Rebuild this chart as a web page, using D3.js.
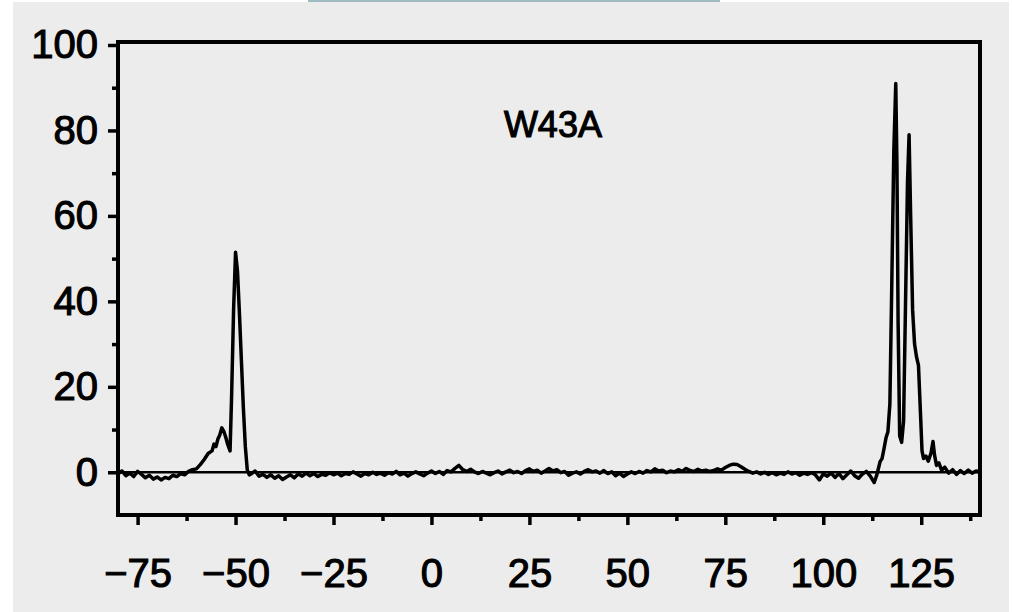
<!DOCTYPE html>
<html>
<head>
<meta charset="utf-8">
<script src="https://cdn.jsdelivr.net/npm/d3@7"></script>
<style>
  html, body { margin: 0; padding: 0; background: #ffffff; }
  svg { display: block; }
  text { font-family: "Liberation Sans", Arial, Helvetica, sans-serif; fill: #000; }
</style>
</head>
<body>
<svg id="chart" width="1013" height="612"></svg>
<script>
// Spectrum trace: chemical shift (ppm) and signal intensity
const shiftPpm = [
  -80, -79, -78, -77, -76, -75, -74, -73, -72, -71, -70, -69, -68, -67, -66, -65, -64, -63, -62, -61,
  -60, -59, -58, -57, -56, -55.5, -55, -54.5, -54, -53.5, -53, -52.5, -52, -51.4, -51, -50.5, -50,
  -49.5, -49, -48.5, -48, -47.5, -47, -46.5,
  -46, -45, -44, -43, -42, -41, -40, -39, -38, -37, -36, -35, -34, -33, -32, -31, -30, -29, -28, -27,
  -26, -25, -24, -23, -22, -21, -20, -19, -18, -17, -16, -15, -14, -13, -12, -11, -10, -9, -8, -7,
  -6, -5, -4, -3, -2, -1, 0, 1, 2, 3, 4, 5, 6, 7, 8, 9, 10, 11, 12, 13, 14, 15, 16, 17, 18, 19,
  20, 21, 22, 23, 24, 25, 26, 27, 28, 29, 30, 31, 32, 33, 34, 35, 36, 37, 38, 39, 40, 41, 42, 43,
  44, 45, 46, 47, 48, 49, 50, 51, 52, 53, 54, 55, 56, 57, 58, 59, 60, 61, 62, 63, 64, 65, 66, 67,
  68, 69, 70, 71, 72, 73, 74, 75, 76, 77, 78, 79, 80, 81, 82, 83, 84, 85, 86, 87, 88, 89, 90, 91,
  92, 93, 94, 95, 96, 97, 98, 99, 100, 101, 102, 103, 104, 105, 106, 107, 108, 109, 110, 111, 112,
  113, 113.6, 114, 114.5, 115, 115.5, 116, 116.5, 117, 117.5, 118, 118.5, 118.8, 119.1, 119.5, 120,
  120.5, 121, 121.5, 121.9, 122.3, 122.8, 123.3, 123.8, 124.3, 124.8, 125.2, 125.6, 126.2, 126.8,
  127.5, 128, 128.4, 128.9, 129.5, 130.2, 131, 132, 133, 134, 135, 136, 137, 138, 139, 140
];
const intensity = [
  -0.4, 0.3, -0.8, -0.2, -1.0, 0.2, -0.5, -1.3, -0.7, -1.6, -1.1, -1.8, -1.2, -1.5, -0.7, -1.0, -0.3, -0.6, 0.2, 0.6,
  0.8, 1.8, 3.0, 4.4, 5.0, 6.6, 6.0, 7.8, 8.8, 10.4, 9.6, 8.2, 6.5, 5.0, 18, 38, 51.5,
  47, 37, 26, 15, 6, 0.5, -0.6,
  -0.4, 0.3, -0.9, -0.5, -1.2, -0.6, -1.4, -0.8, -1.7, -1.1, -0.6, -1.3, -0.4, -0.9, -0.2, -0.8, -0.3, -1.0, -0.5, -0.7,
  -0.1, -0.6, -0.2, -0.8, -0.3, -0.5, 0.1, -0.4, -0.9, -0.3, -0.6, 0.0, -0.5, -0.2, -0.7, -0.1, -0.4, 0.2, -0.6, -0.2,
  -0.9, -0.3, 0.1, -0.4, -0.8, -0.2, 0.3, -0.3, 0.2, -0.5, 0.4, 0.1, 0.9, 1.6, 0.6, 0.2, 0.7, 0.1, -0.3, 0.2, -0.2, -0.6, -0.1, 0.3, -0.4, 0.1,
  0.5, -0.1, 0.2, -0.3, 0.4, 0.8, 0.2, 0.5, -0.2, 0.3, 0.9, 0.3, 0.6, -0.1, 0.2, -0.7, -0.2, 0.1, -0.4, 0.2, 0.6, 0.1, 0.3, -0.2,
  0.4, -0.3, 0.1, -0.8, -0.2, -1.0, -0.4, 0.1, -0.3, 0.2, -0.2, 0.4, 0.1, 0.8, 0.3, 0.5, -0.1, 0.3, 0.1, 0.6, 0.2, 0.9, 0.4, 0.2,
  0.7, 0.3, 0.5, 0.2, 0.4, 0.8, 0.5, 1.1, 1.6, 1.9, 1.8, 1.3, 0.7, 0.2, -0.2, 0.1, -0.4, 0.0, -0.5, -0.1, -0.6, -0.2, -0.5, 0.1,
  -0.4, -0.1, -0.7, -0.2, -0.5, -0.1, -0.6, -1.8, -0.4, -0.9, -0.2, -1.2, -0.3, -1.5, -0.6, 0.3, -0.8, -1.4, -0.4, 0.2, -0.9,
  -2.4, -0.8, 0.6, 2.5, 3.2, 5.5, 8.0, 9.5, 16, 45, 75, 91, 72, 35, 8.5, 7.0,
  12, 40, 68, 79, 60, 38, 30, 27, 25, 14, 5.0, 3.2, 3.8, 2.6,
  4.5, 7.2, 4.0, 1.6, 2.2, 0.5, 1.2, -0.2, 0.6, -0.5, 0.4, -0.3, 0.5, -0.2, 0.3, 0.0
];

const xMajorTicks = [-75, -50, -25, 0, 25, 50, 75, 100, 125];
const xMinorTicks = [-62.5, -37.5, -12.5, 12.5, 37.5, 62.5, 87.5, 112.5, 137.5];
const yMajorTicks = [0, 20, 40, 60, 80, 100];
const yMinorTicks = [10, 30, 50, 70, 90];
const sampleLabel = "W43A";

const svg = d3.select("#chart");

// page backdrop
svg.append("rect").attr("x", 13).attr("y", 2).attr("width", 996).attr("height", 610).attr("fill", "#ececec");
svg.append("rect").attr("x", 308).attr("y", 0).attr("width", 412).attr("height", 2).attr("fill", "#9fbcc2");

const x = d3.scaleLinear().domain([-80, 140]).range([118, 980]);
const y = d3.scaleLinear().domain([-10, 100.7]).range([515, 42]);

const fmt = d3.format("d");

// x axis (bottom)
const gx = svg.append("g").attr("transform", `translate(0,${y(-10)})`);
gx.call(d3.axisBottom(x).tickValues(xMajorTicks).tickSize(10).tickPadding(34).tickFormat(fmt));
const gxm = svg.append("g").attr("transform", `translate(0,${y(-10)})`);
gxm.call(d3.axisBottom(x).tickValues(xMinorTicks).tickSize(6).tickFormat(""));

// y axis (left)
const gy = svg.append("g").attr("transform", `translate(${x(-80)},0)`);
gy.call(d3.axisLeft(y).tickValues(yMajorTicks).tickSize(10).tickPadding(10).tickFormat(fmt));
const gym = svg.append("g").attr("transform", `translate(${x(-80)},0)`);
gym.call(d3.axisLeft(y).tickValues(yMinorTicks).tickSize(6).tickFormat(""));

svg.selectAll(".domain").remove();
svg.selectAll(".tick line").attr("stroke", "#000").attr("stroke-width", 3.5);
svg.selectAll(".tick text")
  .style("font-size", "40px")
  .attr("fill", "#000")
  .attr("stroke", "#000").attr("stroke-width", 1.1);

// zero reference line
svg.append("line")
  .attr("x1", x(-80)).attr("x2", x(140))
  .attr("y1", y(0)).attr("y2", y(0))
  .attr("stroke", "#000").attr("stroke-width", 2.5);

// spectrum trace
const pts = shiftPpm.map((s, i) => [s, intensity[i]]);
svg.append("path")
  .datum(pts)
  .attr("fill", "none")
  .attr("stroke", "#000")
  .attr("stroke-width", 3.5)
  .attr("stroke-linejoin", "round")
  .attr("d", d3.line().x(d => x(d[0])).y(d => y(d[1])));

// plot frame
svg.append("rect")
  .attr("x", x(-80)).attr("y", y(100.7))
  .attr("width", x(140) - x(-80)).attr("height", y(-10) - y(100.7))
  .attr("fill", "none").attr("stroke", "#000").attr("stroke-width", 4);

// sample label
svg.append("text")
  .attr("x", x(31)).attr("y", y(78.5))
  .attr("text-anchor", "middle")
  .style("font-size", "36px")
  .attr("stroke", "#000").attr("stroke-width", 1.1)
  .text(sampleLabel);
</script>
</body>
</html>
